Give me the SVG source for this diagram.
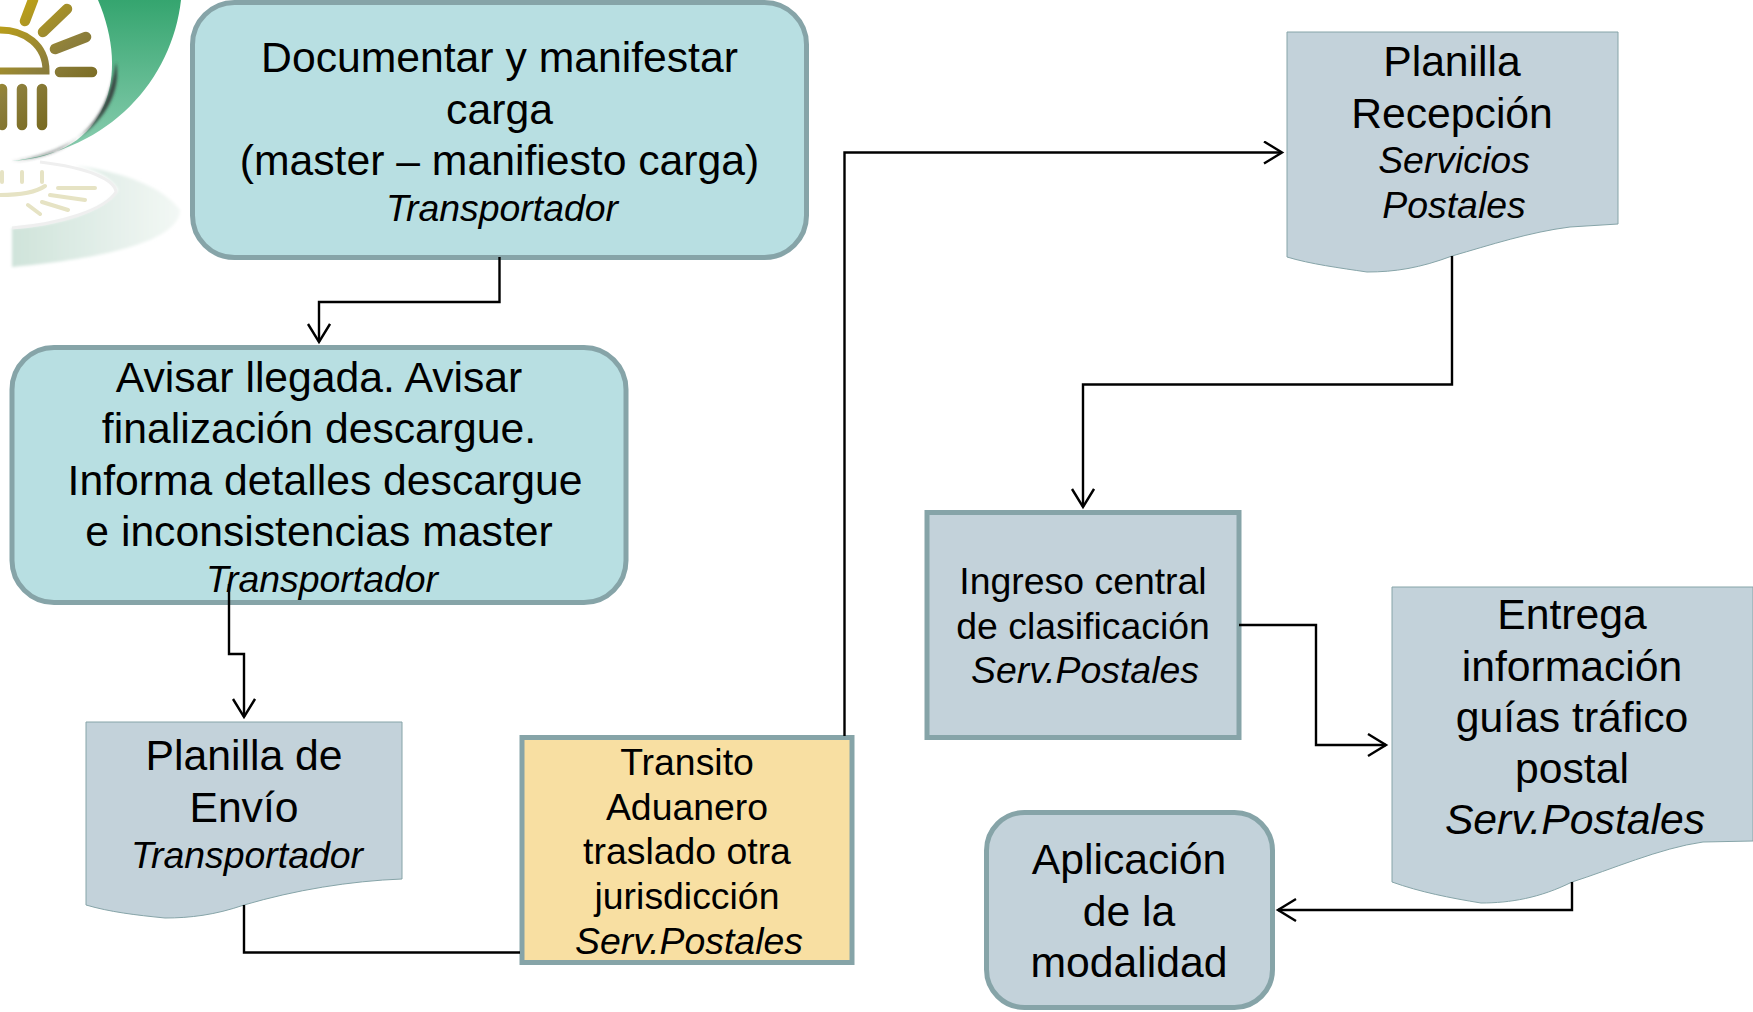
<svg xmlns="http://www.w3.org/2000/svg" width="1753" height="1012" viewBox="0 0 1753 1012">
<defs>
<style>
text{font-family:"Liberation Sans",Arial,sans-serif;fill:#000;text-anchor:middle}
.a{font-size:42.7px}.b{font-size:37.4px}.i{font-style:italic}
.teal{fill:#b8dfe2;stroke:#86a4a8;stroke-width:5}
.grey{fill:#c3d2da;stroke:#86a4a8;stroke-width:5}
.gold{fill:#f8dfa2;stroke:#86a4a8;stroke-width:5}
.doc{fill:#c3d2da;stroke:#86a4a8;stroke-width:1}
.c{fill:none;stroke:#000;stroke-width:2.4}
.ray{stroke:url(#gold);stroke-width:10.500;stroke-linecap:round;fill:none}
.ray2{stroke:#e6e3c4;stroke-width:4;stroke-linecap:round;fill:none}
</style>
<linearGradient id="green" x1="0" y1="0" x2="0" y2="1"><stop offset="0" stop-color="#35a56f"/><stop offset="1" stop-color="#8fd0b4"/></linearGradient>
<linearGradient id="gold" gradientUnits="userSpaceOnUse" x1="0" y1="0" x2="100" y2="120"><stop offset="0" stop-color="#c9a90e"/><stop offset="0.5" stop-color="#8d7f3c"/><stop offset="1" stop-color="#6d5e12"/></linearGradient>
<linearGradient id="pale" x1="0" y1="0" x2="1" y2="0"><stop offset="0" stop-color="#cfe3da"/><stop offset="1" stop-color="#f3f8f5"/></linearGradient>
<filter id="soft" x="-20%" y="-20%" width="140%" height="140%"><feGaussianBlur stdDeviation="1.500"/></filter>
<marker id="ah" markerUnits="userSpaceOnUse" markerWidth="24" markerHeight="26" refX="19" refY="12" orient="auto"><path d="M1 1 L19 12 L1 23" fill="none" stroke="#000" stroke-width="2.4"/></marker>
</defs>
<rect width="1753" height="1012" fill="#fff"/>
<g id="logo">
<path d="M181 0 C172 80 110 150 12 161 C110 155 130 75 98 0Z" fill="url(#green)"/>
<path d="M12 161 C70 157 108 125 116 62 C124 105 85 152 12 161Z" fill="#37423f" filter="url(#soft)"/>
<path d="M0 71 H46 C46 45 25 30 0 30" fill="none" stroke="url(#gold)" stroke-width="7"/>
<path class="ray" d="M2 89V125M22 89V125M42 89V125M60 72H92M55 49L86 37M43 32L67 9M25 21L33 0"/>
<path d="M12 228 C60 226 105 210 118 190 C110 175 90 168 70 165 C130 172 165 190 180 210 C180 232 140 255 12 267Z" fill="url(#pale)" filter="url(#soft)"/>
<path d="M40 162 C90 168 115 180 116 192 C105 210 60 224 12 228" fill="none" stroke="#efefef" stroke-width="3"/>
<path class="ray2" d="M2 172V182M22 172V182M42 172V182M58 188H95M50 195L85 200M42 202L68 210M28 205L40 214M0 195C20 195 35 193 45 186"/>
</g>
<g id="n1"><rect class="teal" x="192.500" y="2.500" width="614" height="255" rx="42"/>
<text class="a" x="499.500" y="72">Documentar y manifestar</text><text class="a" x="499.500" y="124">carga</text><text class="a" x="499.500" y="175">(master – manifiesto carga)</text><text class="b i" x="502" y="220.500">Transportador</text></g>
<g id="n2"><rect class="teal" x="12" y="347.500" width="614" height="255" rx="42"/>
<text class="a" x="319" y="392">Avisar llegada. Avisar</text><text class="a" x="319" y="443">finalización descargue.</text><text class="a" x="325" y="495">Informa detalles descargue</text><text class="a" x="319" y="546">e inconsistencias master</text><text class="b i" x="322" y="591.500">Transportador</text></g>
<g id="n3"><path class="doc" d="M86 722H402V879C350 881 295 890 244 905C215 915 190 918 165 918C135 915 110 912 86 905Z"/>
<text class="a" x="244" y="770">Planilla de</text><text class="a" x="244" y="822">Envío</text><text class="b i" x="247" y="868">Transportador</text></g>
<g id="n4"><rect class="gold" x="522" y="737.500" width="330" height="225"/>
<text class="b" x="687" y="775">Transito</text><text class="b" x="687" y="820">Aduanero</text><text class="b" x="687" y="864">traslado otra</text><text class="b" x="687" y="909">jurisdicción</text><text class="b i" x="689" y="954">Serv.Postales</text></g>
<g id="n5"><path class="doc" d="M1287 32H1618V224L1570 227C1530 232 1490 245 1452 256C1420 268 1395 272 1367 272C1340 268 1310 264 1287 257Z"/>
<text class="a" x="1452" y="76">Planilla</text><text class="a" x="1452" y="128">Recepción</text><text class="b i" x="1454" y="173">Servicios</text><text class="b i" x="1454" y="218">Postales</text></g>
<g id="n6"><rect class="grey" x="927" y="512.500" width="312" height="225"/>
<text class="b" x="1083" y="594">Ingreso central</text><text class="b" x="1083" y="639">de clasificación</text><text class="b i" x="1085" y="683">Serv.Postales</text></g>
<g id="n7"><path class="doc" d="M1392 587H1753V841L1703 842C1660 848 1610 870 1572 882C1540 898 1510 903 1481 903C1450 898 1420 892 1392 882Z"/>
<text class="a" x="1572" y="629">Entrega</text><text class="a" x="1572" y="681">información</text><text class="a" x="1572" y="732">guías tráfico</text><text class="a" x="1572" y="783">postal</text><text class="a i" x="1575" y="834">Serv.Postales</text></g>
<g id="n8"><rect class="grey" x="986.500" y="812.500" width="286" height="195" rx="38"/>
<text class="a" x="1129" y="874">Aplicación</text><text class="a" x="1129" y="926">de la</text><text class="a" x="1129" y="977">modalidad</text></g>
<g id="connectors">
<path class="c" d="M499.500 257V302H319V342" marker-end="url(#ah)"/>
<path class="c" d="M229 584V654H244V717" marker-end="url(#ah)"/>
<path class="c" d="M244 905V952.500H520"/>
<path class="c" d="M844.500 736V152.500H1282" marker-end="url(#ah)"/>
<path class="c" d="M1452 256V384.500H1083V507" marker-end="url(#ah)"/>
<path class="c" d="M1239 625H1316V745H1386" marker-end="url(#ah)"/>
<path class="c" d="M1572 882V910H1278" marker-end="url(#ah)"/>
</g>
</svg>
